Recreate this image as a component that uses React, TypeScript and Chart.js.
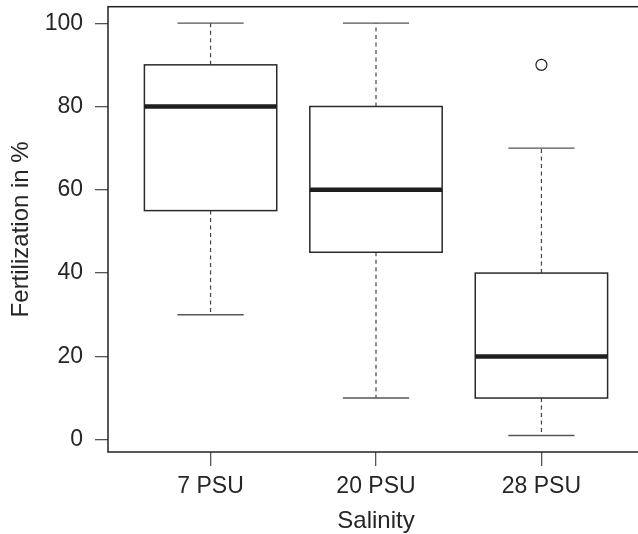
import React, { useEffect, useRef } from "react";
import { Chart, registerables } from "chart.js";

Chart.register(...registerables);

// ---- data ----
const categories = ["7 PSU", "20 PSU", "28 PSU"];
const whiskerLow = [30, 10, 1];
const quartile1 = [55, 45, 10];
const medians = [80, 60, 20];
const quartile3 = [90, 80, 40];
const whiskerHigh = [100, 100, 70];
const outlierGroups = [3];
const outlierValues = [90];
const yTickValues = [0, 20, 40, 60, 80, 100];
const yTitle = "Fertilization in %";
const xTitle = "Salinity";

const FONT = "'Liberation Sans', Arial, Helvetica, sans-serif";
const TEXT = "#262626";

// R-like axis extension (4% on each side)
const allVals = [...whiskerLow, ...whiskerHigh, ...outlierValues];
const yLo = Math.min(...allVals);
const yHi = Math.max(...allVals);
const yMin = yLo - 0.04 * (yHi - yLo);
const yMax = yHi + 0.04 * (yHi - yLo);
const xMin = 0.5 - 0.04 * categories.length;
const xMax = categories.length + 0.5 + 0.04 * categories.length;

const boxPlugin = {
  id: "rboxes",
  beforeDatasetsDraw(chart: any) {
    const { ctx, scales } = chart;
    const x = scales.x;
    const y = scales.y;
    ctx.save();
    categories.forEach((_, i) => {
      const pos = i + 1;
      const cx = x.getPixelForValue(pos);
      const left = x.getPixelForValue(pos - 0.4);
      const right = x.getPixelForValue(pos + 0.4);
      const sl = x.getPixelForValue(pos - 0.2);
      const sr = x.getPixelForValue(pos + 0.2);
      const yLow = y.getPixelForValue(whiskerLow[i]);
      const yQ1 = y.getPixelForValue(quartile1[i]);
      const yMed = y.getPixelForValue(medians[i]);
      const yQ3 = y.getPixelForValue(quartile3[i]);
      const yHigh = y.getPixelForValue(whiskerHigh[i]);

      // whiskers (dashed)
      ctx.strokeStyle = "#444";
      ctx.lineWidth = 1.2;
      ctx.setLineDash([4, 3.5]);
      ctx.beginPath();
      ctx.moveTo(cx, yQ3);
      ctx.lineTo(cx, yHigh);
      ctx.moveTo(cx, yQ1);
      ctx.lineTo(cx, yLow);
      ctx.stroke();
      ctx.setLineDash([]);

      // staples
      ctx.strokeStyle = "#555";
      ctx.lineWidth = 1.3;
      ctx.beginPath();
      ctx.moveTo(sl, yHigh);
      ctx.lineTo(sr, yHigh);
      ctx.moveTo(sl, yLow);
      ctx.lineTo(sr, yLow);
      ctx.stroke();

      // box
      ctx.fillStyle = "#ffffff";
      ctx.fillRect(left, yQ3, right - left, yQ1 - yQ3);
      ctx.strokeStyle = "#2a2a2a";
      ctx.lineWidth = 1.5;
      ctx.strokeRect(left, yQ3, right - left, yQ1 - yQ3);

      // median
      ctx.strokeStyle = "#1e1e1e";
      ctx.lineWidth = 4.5;
      ctx.beginPath();
      ctx.moveTo(left, yMed);
      ctx.lineTo(right, yMed);
      ctx.stroke();
    });
    ctx.restore();
  },
  afterDraw(chart: any) {
    const { ctx, chartArea } = chart;
    ctx.save();
    ctx.strokeStyle = "#222";
    ctx.lineWidth = 1.5;
    ctx.strokeRect(
      chartArea.left,
      chartArea.top,
      chartArea.right - chartArea.left,
      chartArea.bottom - chartArea.top
    );
    ctx.restore();
  },
};

export default function App() {
  const ref = useRef<HTMLCanvasElement | null>(null);

  useEffect(() => {
    if (!ref.current) return;
    const chart = new Chart(ref.current, {
      type: "scatter",
      data: {
        datasets: [
          {
            label: "outliers",
            data: outlierGroups.map((g, i) => ({ x: g, y: outlierValues[i] })),
            pointStyle: "circle",
            pointRadius: 5.5,
            pointBorderWidth: 1.2,
            pointBorderColor: "#222",
            pointBackgroundColor: "rgba(0,0,0,0)",
          },
        ],
      },
      options: {
        responsive: false,
        animation: false,
        devicePixelRatio: 1,
        layout: { padding: { top: 6, left: 0, right: 16, bottom: 0 } },
        plugins: {
          legend: { display: false },
          tooltip: { enabled: false },
        },
        scales: {
          x: {
            type: "linear",
            min: xMin,
            max: xMax,
            afterBuildTicks: (s: any) => {
              s.ticks = categories.map((_, i) => ({ value: i + 1 }));
            },
            afterFit: (s: any) => {
              s.height = 82;
              s.paddingLeft = 0;
              s.paddingRight = 0;
              s.paddingTop = 0;
              s.paddingBottom = 0;
            },
            border: { display: false },
            grid: {
              drawOnChartArea: false,
              drawTicks: true,
              tickLength: 14,
              color: "#555",
              lineWidth: 1.3,
            },
            ticks: {
              autoSkip: false,
              maxRotation: 0,
              padding: 7,
              color: TEXT,
              font: { family: FONT, size: 23 },
              callback: (v: any) => categories[Math.round(Number(v)) - 1] ?? "",
            },
            title: {
              display: true,
              text: xTitle,
              color: TEXT,
              font: { family: FONT, size: 24 },
              padding: { top: 0, bottom: -2 },
            },
          },
          y: {
            type: "linear",
            min: yMin,
            max: yMax,
            afterBuildTicks: (s: any) => {
              s.ticks = yTickValues.map((v) => ({ value: v }));
            },
            afterFit: (s: any) => {
              s.width = 108;
              s.paddingLeft = 0;
              s.paddingRight = 0;
              s.paddingTop = 0;
              s.paddingBottom = 0;
            },
            border: { display: false },
            grid: {
              drawOnChartArea: false,
              drawTicks: true,
              tickLength: 13,
              color: "#555",
              lineWidth: 1.3,
            },
            ticks: {
              autoSkip: false,
              padding: 12,
              color: TEXT,
              font: { family: FONT, size: 23 },
              callback: (v: any) => String(v),
            },
            title: {
              display: true,
              text: yTitle,
              color: TEXT,
              font: { family: FONT, size: 24 },
              padding: { top: 7, bottom: 0 },
            },
          },
        },
      },
      plugins: [boxPlugin],
    });
    return () => chart.destroy();
  }, []);

  return (
    <div
      style={{
        position: "fixed",
        left: 0,
        top: 0,
        width: 638,
        height: 534,
        overflow: "hidden",
        background: "#fff",
      }}
    >
      <canvas ref={ref} width={660} height={534} style={{ display: "block" }} />
    </div>
  );
}
